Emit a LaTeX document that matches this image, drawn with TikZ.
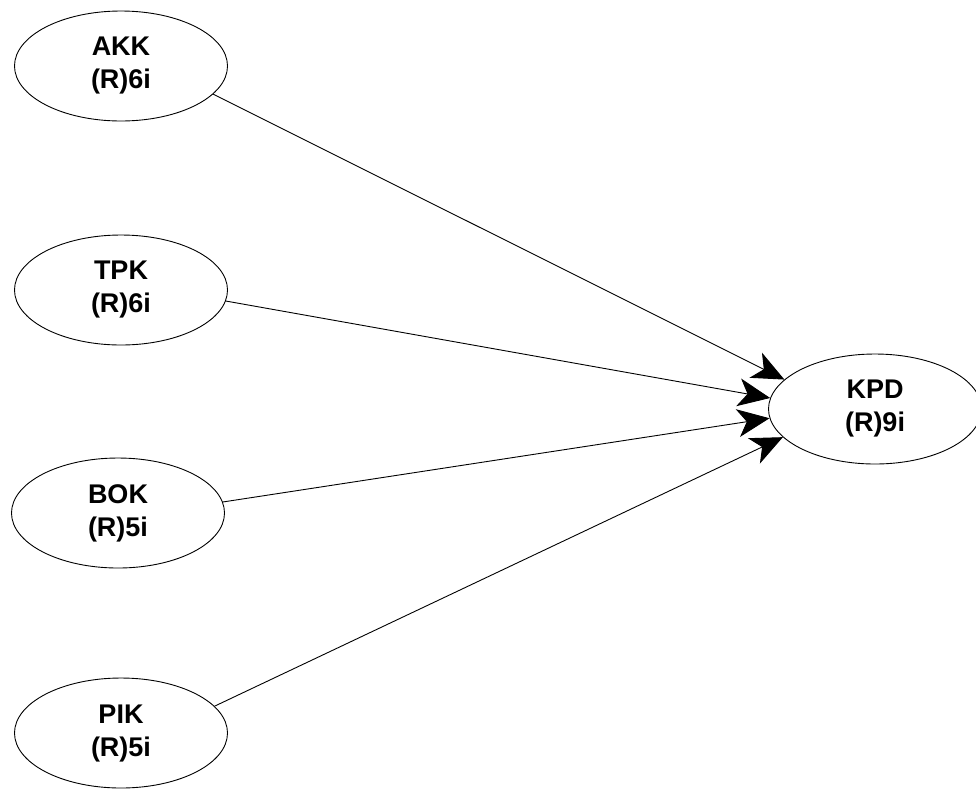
\documentclass[tikz,border=0pt]{standalone}
\usepackage{fontspec}
\setmainfont{Liberation Sans}
\usetikzlibrary{arrows.meta,shapes.geometric}

\begin{document}
\begin{tikzpicture}[x=1pt,y=-1pt,
  latent/.style={ellipse,draw,line width=0.9pt,minimum width=213pt,minimum height=110pt,
    inner sep=0pt,align=center,font=\fontsize{27}{33}\selectfont\bfseries},
  link/.style={line width=0.9pt,-{Stealth[length=32pt,width=28pt,inset=9pt]}}]
  \useasboundingbox (0,0) rectangle (976,788);
  \node[latent] (akk) at (121,66) {AKK\\(R)6i};
  \node[latent] (tpk) at (121,290) {TPK\\(R)6i};
  \node[latent] (bok) at (118,513) {BOK\\(R)5i};
  \node[latent] (pik) at (121,733) {PIK\\(R)5i};
  \node[latent] (kpd) at (875,409) {KPD\\(R)9i};
  \draw[link] (akk.-17) -- (kpd.162);
  \draw[link] (tpk.-6) -- (kpd.174);
  \draw[link] (bok.6) -- (kpd.185);
  \draw[link] (pik.16) -- (kpd.197);
\end{tikzpicture}
\end{document}
